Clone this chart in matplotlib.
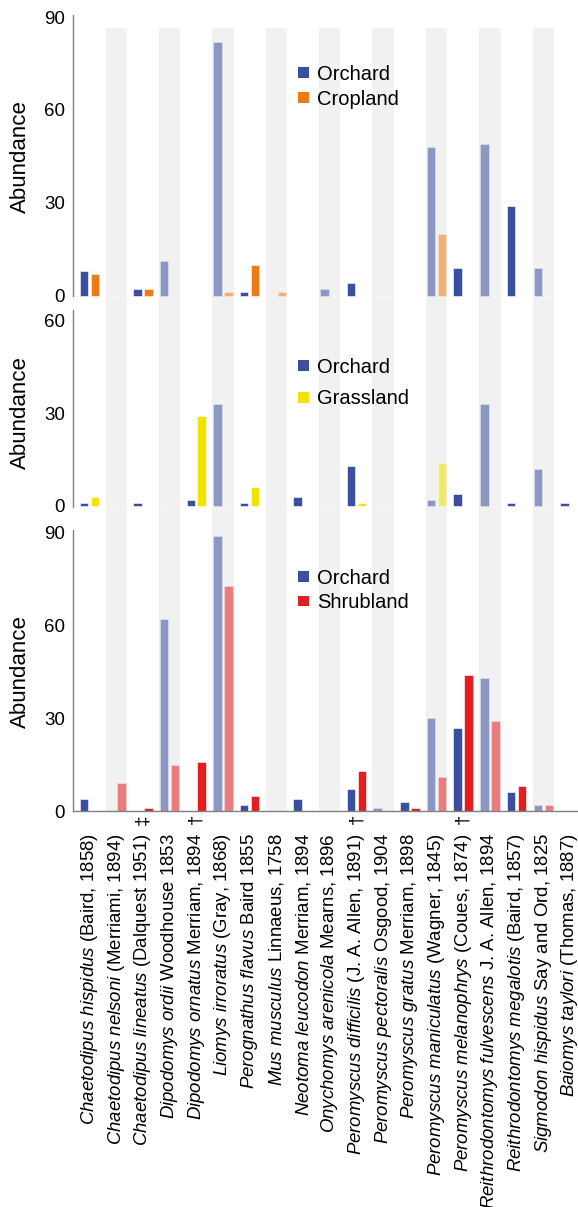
import numpy as np
import matplotlib
matplotlib.use("Agg")
import matplotlib.pyplot as plt
from matplotlib.patches import Patch

plt.rcParams['font.family'] = ['Liberation Sans', 'DejaVu Sans']
plt.rcParams['mathtext.fontset'] = 'custom'
plt.rcParams['mathtext.rm'] = 'Liberation Sans'
plt.rcParams['mathtext.it'] = 'Liberation Sans:italic'

# species: (italic name, authority)
genus_sp = ["Chaetodipus hispidus", "Chaetodipus nelsoni", "Chaetodipus lineatus",
            "Dipodomys ordii", "Dipodomys ornatus", "Liomys irroratus",
            "Perognathus flavus", "Mus musculus", "Neotoma leucodon",
            "Onychomys arenicola", "Peromyscus difficilis", "Peromyscus pectoralis",
            "Peromyscus gratus", "Peromyscus maniculatus", "Peromyscus melanophrys",
            "Reithrodontomys fulvescens", "Reithrodontomys megalotis",
            "Sigmodon hispidus", "Baiomys taylori"]
authority = ["(Baird, 1858)", "(Merriami, 1894)", "(Dalquest 1951)",
             "Woodhouse 1853", "Merriam, 1894", "(Gray, 1868)",
             "Baird 1855", "Linnaeus, 1758", "Merriam, 1894",
             "Mearns, 1896", "(J. A. Allen, 1891)", "Osgood, 1904",
             "Merriam, 1898", "(Wagner, 1845)", "(Coues, 1874)",
             "J. A. Allen, 1894", "(Baird, 1857)",
             "Say and Ord, 1825", "(Thomas, 1887)"]
marks = ["", "", "\u2021", "", "\u2020", "", "", "", "", "", "\u2020",
         "", "", "", "\u2020", "", "", "", ""]

orchard_1 = [8, 0, 2, 11, 0, 82, 1, 0, 0, 2, 4, 0, 0, 48, 9, 49, 29, 9, 0]
cropland = [7, 0, 2, 0, 0, 1, 10, 1, 0, 0, 0, 0, 0, 20, 0, 0, 0, 0, 0]

orchard_2 = [1, 0, 1, 0, 2, 33, 1, 0, 3, 0, 13, 0, 0, 2, 4, 33, 1, 12, 1]
grassland = [3, 0, 0, 0, 29, 0, 6, 0, 0, 0, 1, 0, 0, 14, 0, 0, 0, 0, 0]

orchard_3 = [4, 0, 0, 62, 0, 89, 2, 0, 4, 0, 7, 1, 3, 30, 27, 43, 6, 2, 0]
shrubland = [0, 9, 1, 15, 16, 73, 5, 0, 0, 0, 13, 0, 1, 11, 44, 29, 8, 2, 0]

BLUE = '#3a4f9f'
panels = [
    (orchard_1, cropland, 'Cropland', '#ef7a14', 90),
    (orchard_2, grassland, 'Grassland', '#f0e400', 60),
    (orchard_3, shrubland, 'Shrubland', '#e41e20', 90),
]

W, H = 578, 1207
fig = plt.figure(figsize=(W / 100, H / 100), dpi=100)

x = np.arange(len(genus_sp))
left_px = 72.7
# (top px, bottom px, zero px, px per unit)
geo = [(15, 297, 295.5, 3.094), (297, 508, 506, 3.1), (508, 811, 811, 3.089)]
spine_top = [90.66, 63.2, 91]
band_top = [86.5, None, None]
legend_top = [65, 358, 569]
legend_sp = [0.3, 0.62, 0.26]

xlim = (-0.63, 18.3)
axes = []
for k, (orch, other, name, col, ymax) in enumerate(panels):
    top, bot, zero, ppu = geo[k]
    ax = fig.add_axes([left_px / W, 1 - bot / H, 1 - left_px / W, (bot - top) / H])
    ylo = -(bot - zero) / ppu
    yhi = (zero - top) / ppu
    ax.set_ylim(ylo, yhi)
    ax.set_xlim(*xlim)

    # grey bands on odd columns
    bt = band_top[k] if band_top[k] is not None else yhi
    for i in x[1::2]:
        ax.bar(i, bt - ylo, bottom=ylo, width=0.8, color='#f1f1f1', zorder=1, linewidth=0)

    alphas = [0.55 if i % 2 else 1.0 for i in x]
    for i in x:
        ax.bar(i - 0.205, orch[i], width=0.32, color=BLUE, alpha=alphas[i],
               edgecolor='white', linewidth=0.4, zorder=2)
        ax.bar(i + 0.205, other[i], width=0.32, color=col, alpha=alphas[i],
               edgecolor='white', linewidth=0.4, zorder=2)

    ax.set_yticks(np.arange(0, ymax + 1, 30))
    ax.tick_params(axis='y', length=0, pad=5.5, labelsize=13.5)
    for s in ['top', 'right']:
        ax.spines[s].set_visible(False)
    ax.spines['left'].set_color('#808080')
    ax.spines['left'].set_linewidth(1.0)
    ax.spines['left'].set_bounds(0 if k == 2 else ylo, spine_top[k])
    if k < 2:
        ax.spines['bottom'].set_visible(False)
        ax.set_xticks([])
    else:
        ax.spines['bottom'].set_color('#808080')
        ax.spines['bottom'].set_linewidth(1.0)

    ax.set_ylabel('Abundance', fontsize=16)
    ax.yaxis.label.set_va('center')
    mid = (ymax / 2 - ylo) / (yhi - ylo)
    ax.yaxis.set_label_coords((20 - left_px) / (W - left_px), mid)

    handles = [Patch(facecolor=BLUE), Patch(facecolor=col)]
    ax.legend(handles, ['Orchard', name], loc='upper left',
              bbox_to_anchor=(298 / W, 1 - legend_top[k] / H),
              bbox_transform=fig.transFigure, frameon=False, fontsize=14.5,
              borderpad=0, borderaxespad=0, handlelength=0.55, handleheight=0.45,
              handletextpad=0.4, labelspacing=legend_sp[k])
    axes.append(ax)

ax3 = axes[2]
labels = []
for g, a in zip(genus_sp, authority):
    labels.append(r"$\mathit{" + g.replace(" ", r"\ ") + "}$ " + a)
ax3.set_xticks(x)
ax3.set_xticklabels(labels, rotation=90, ha='center', va='top', fontsize=13.4)
ax3.tick_params(axis='x', length=0, pad=16)
for i, m in enumerate(marks):
    if m:
        ax3.annotate(m, xy=(i, 0), xycoords='data', xytext=(0, -6),
                     textcoords='offset points', rotation=90, ha='center',
                     va='center', fontsize=13.4)

fig.savefig('out.png', dpi=100)
